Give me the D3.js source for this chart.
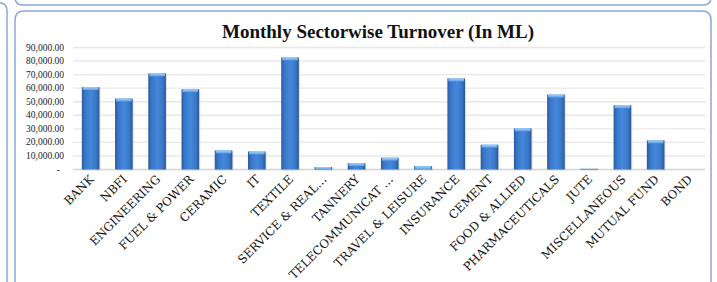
<!DOCTYPE html>
<html>
<head>
<meta charset="utf-8">
<script src="https://cdn.jsdelivr.net/npm/d3@7"></script>
<style>
  body { margin: 0; background: #fff; }
</style>
</head>
<body>
<div id="chart"></div>
<script>
var width = 717,
    height = 282;

// data
var sectors = ["BANK", "NBFI", "ENGINEERING", "FUEL & POWER", "CERAMIC", "IT", "TEXTILE",
  "SERVICE & REAL…", "TANNERY", "TELECOMMUNICAT …", "TRAVEL & LEISURE", "INSURANCE",
  "CEMENT", "FOOD & ALLIED", "PHARMACEUTICALS", "JUTE", "MISCELLANEOUS", "MUTUAL FUND", "BOND"];
var turnover = [60800, 52400, 70900, 59300, 14100, 13300, 82700, 1800, 4700, 8700, 2500,
  67200, 18300, 30400, 55300, 500, 47400, 21500, 0];
var yTicks = [0, 10000, 20000, 30000, 40000, 50000, 60000, 70000, 80000, 90000];

var svg = d3.select("#chart").append("svg")
    .attr("width", width)
    .attr("height", height)
    .style("font-family", "'Liberation Serif', serif");

var defs = svg.append("defs");
var g1 = defs.append("linearGradient").attr("id", "barGrad")
    .attr("x1", "0%").attr("x2", "100%").attr("y1", "0%").attr("y2", "0%");
g1.append("stop").attr("offset", "0%").attr("stop-color", "#2a5a9c");
g1.append("stop").attr("offset", "18%").attr("stop-color", "#3a76c8");
g1.append("stop").attr("offset", "50%").attr("stop-color", "#4488da");
g1.append("stop").attr("offset", "82%").attr("stop-color", "#3a76c8");
g1.append("stop").attr("offset", "100%").attr("stop-color", "#285694");
var g2 = defs.append("linearGradient").attr("id", "capGrad")
    .attr("x1", "0%").attr("x2", "0%").attr("y1", "0%").attr("y2", "100%");
g2.append("stop").attr("offset", "0%").attr("stop-color", "#a6d4fb");
g2.append("stop").attr("offset", "100%").attr("stop-color", "#5a9ee6");

// frames
var frame = "#8aa6d8";
svg.append("path")
    .attr("d", "M-20,3 L0,3 Q7,3 7,11 L7,290")
    .attr("fill", "none").attr("stroke", frame).attr("stroke-width", 1.5);
svg.append("path")
    .attr("d", "M15,-20 L15,-3 Q15,5 23,5 L703,5 Q711,5 711,-3 L711,-20")
    .attr("fill", "none").attr("stroke", frame).attr("stroke-width", 1.5);
svg.append("path")
    .attr("d", "M15,290 L15,20 Q15,11 24,11 L702,11 Q711,11 711,20 L711,290")
    .attr("fill", "none").attr("stroke", frame).attr("stroke-width", 1.5);

var x = d3.scaleBand()
    .domain(sectors)
    .range([74, 705.5])
    .paddingInner(0.47)
    .paddingOuter(0.235);

var y = d3.scaleLinear()
    .domain([0, 90000])
    .range([169.5, 47.5]);

// gridlines
svg.append("g")
    .selectAll("line")
    .data(yTicks)
  .enter().append("line")
    .attr("x1", 73)
    .attr("x2", 705)
    .attr("y1", function(d) { return y(d); })
    .attr("y2", function(d) { return y(d); })
    .attr("stroke", function(d) { return d === 0 ? "#d4d4d4" : "#e8e8e8"; })
    .attr("stroke-width", 1.4);

// y labels
var fmt = d3.format(",.2f");
svg.append("g")
    .selectAll("text")
    .data(yTicks)
  .enter().append("text")
    .attr("x", function(d) { return d === 0 ? 60 : 64; })
    .attr("y", function(d) { return y(d) + 3; })
    .attr("text-anchor", "end")
    .attr("font-size", "9.5px")
    .attr("fill", "#222")
    .text(function(d) { return d === 0 ? "-" : fmt(d); });

// bars
var bars = svg.append("g")
    .selectAll("g")
    .data(sectors)
  .enter().append("g");

bars.filter(function(d, i) { return turnover[i] > 0; })
  .append("rect")
    .attr("x", function(d) { return x(d) + 1; })
    .attr("y", function(d, i) { return y(turnover[sectors.indexOf(d)]) + 1; })
    .attr("width", x.bandwidth())
    .attr("height", function(d) { return y(0) - y(turnover[sectors.indexOf(d)]); })
    .attr("fill", "#c8ccd4")
    .attr("opacity", 0.6);

bars.filter(function(d, i) { return turnover[i] > 0; })
  .append("rect")
    .attr("x", function(d) { return x(d); })
    .attr("y", function(d) { return y(turnover[sectors.indexOf(d)]); })
    .attr("width", x.bandwidth())
    .attr("height", function(d) { return y(0) - y(turnover[sectors.indexOf(d)]); })
    .attr("fill", "url(#barGrad)");

bars.filter(function(d, i) { return turnover[i] > 0; })
  .append("rect")
    .attr("x", function(d) { return x(d) + 1; })
    .attr("y", function(d) { return y(turnover[sectors.indexOf(d)]); })
    .attr("width", x.bandwidth() - 2)
    .attr("height", function(d) {
      return Math.min(3, y(0) - y(turnover[sectors.indexOf(d)]));
    })
    .attr("fill", "url(#capGrad)");

// x labels
svg.append("g")
    .selectAll("text")
    .data(sectors)
  .enter().append("text")
    .attr("transform", function(d) {
      return "translate(" + (x(d) + x.bandwidth() / 2 + 4) + ",180) rotate(-45)";
    })
    .attr("text-anchor", "end")
    .style("font-family", "'DejaVu Serif', serif")
    .attr("font-size", "11.8px")
    .attr("fill", "#111")
    .text(function(d) { return d; });

// title
svg.append("text")
    .attr("x", 378)
    .attr("y", 38)
    .attr("text-anchor", "middle")
    .attr("font-size", "19px")
    .attr("font-weight", "bold")
    .attr("fill", "#111")
    .text("Monthly Sectorwise Turnover (In ML)");
</script>
</body>
</html>
